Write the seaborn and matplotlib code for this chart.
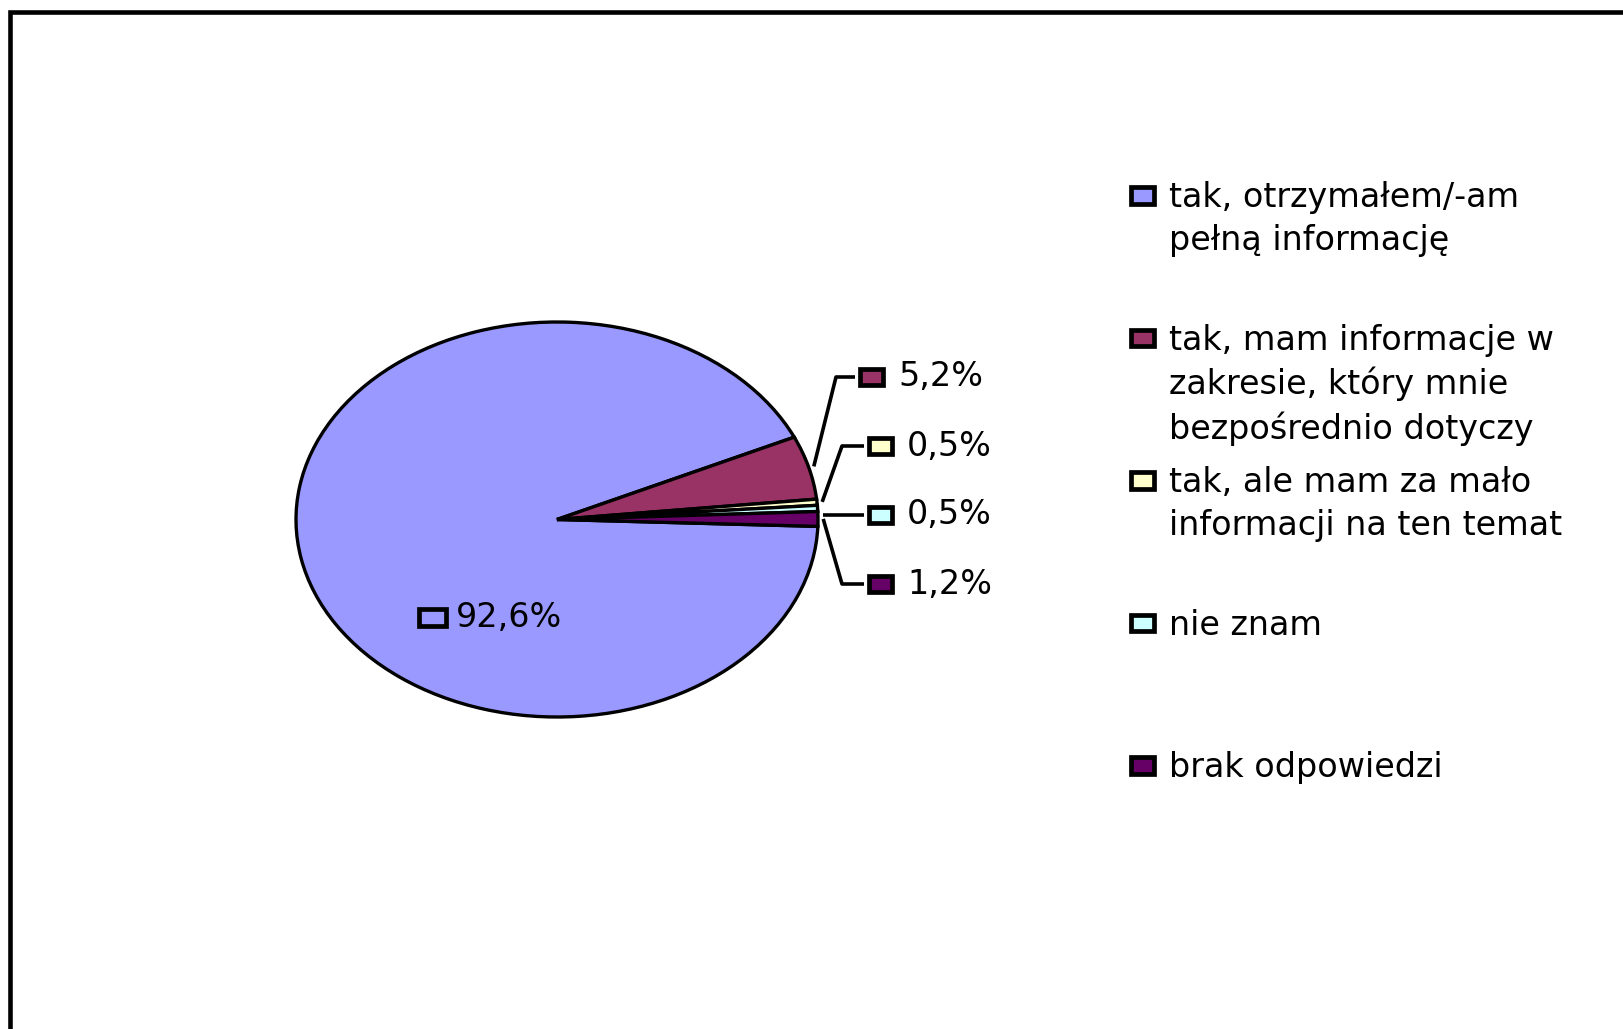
import matplotlib
matplotlib.use("Agg")
import matplotlib.pyplot as plt
import numpy as np
import seaborn as sns
from matplotlib.patches import Rectangle

answers = [
    "tak, otrzymałem/-am\npełną informację",
    "tak, mam informacje w\nzakresie, który mnie\nbezpośrednio dotyczy",
    "tak, ale mam za mało\ninformacji na ten temat",
    "nie znam",
    "brak odpowiedzi",
]
shares = [92.6, 5.2, 0.5, 0.5, 1.2]
palette = ["#9999FF", "#993366", "#FFFFCC", "#CCFFFF", "#660066"]

W, H = 1623, 1029
# pie centre and radii in pixels (the pie is drawn as an ellipse)
CX, CY, RX, RY = 557, 519.5, 261, 197.5


def px(x):
    return (x - CX) / RX


def py(y):
    return (CY - y) / RY


def dw(w):
    return w / RX


def dh(h):
    return h / RY


sns.set_theme(style="white")
plt.rcParams["font.family"] = ["DejaVu Sans"]

fig = plt.figure(figsize=(W / 100, H / 100), dpi=100)
fig.patch.set_facecolor("white")
ax = fig.add_axes([0, 0, 1, 1])
wedges, _ = ax.pie(
    shares,
    colors=palette,
    startangle=-2,
    counterclock=False,
    wedgeprops=dict(edgecolor="black", linewidth=2.4),
)
ax.set_aspect("auto")
ax.set_xlim(-CX / RX, (W - CX) / RX)
ax.set_ylim((CY - H) / RY, CY / RY)
ax.axis("off")

FS = 24
KEY_LW = 3.4


def key(x_left, y_center, w, h, color):
    # outer size w x h in pixels, border drawn inside
    b = 4.5
    ax.add_patch(Rectangle((px(x_left + b / 2), py(y_center + (h - b) / 2)),
                           dw(w - b), dh(h - b), facecolor=color,
                           edgecolor="black", linewidth=KEY_LW, zorder=5))


def fmt(v):
    return f"{v:.1f}%".replace(".", ",")


# labels for the small slices, with leader lines
label_y = [377, 446, 515, 584]
elbow_x = [836, 842, None, 842]
key_left = [858, 867, 867, 867]
for i, w in enumerate(wedges[1:], start=1):
    mid = np.deg2rad((w.theta1 + w.theta2) / 2)
    ax0, ay0 = 1.02 * np.cos(mid), 1.02 * np.sin(mid)
    ly = label_y[i - 1]
    kx = key_left[i - 1]
    xs, ys = [ax0], [ay0]
    if elbow_x[i - 1] is not None:
        xs.append(px(elbow_x[i - 1]))
        ys.append(py(ly))
    else:
        ys[0] = py(ly)
    xs.append(px(kx - 3))
    ys.append(py(ly))
    ax.plot(xs, ys, color="black", linewidth=2.6, solid_capstyle="butt",
            zorder=4)
    key(kx, ly, 27, 21, palette[i])
    ax.text(px(kx + 27 + 13), py(ly), fmt(shares[i]), fontsize=FS,
            va="center", ha="left", color="black", zorder=6)

# label of the big slice, inside the pie
key(417, 617.5, 31, 21, palette[0])
ax.text(px(456), py(617.5), fmt(shares[0]), fontsize=FS, va="center",
        ha="left", color="black", zorder=6)

# legend
for i, (name, color) in enumerate(zip(answers, palette)):
    yc = 195.5 + 142.5 * i
    key(1129, yc, 27, 21, color)
    ax.text(px(1169), py(yc - 14), name, fontsize=FS, va="top", ha="left",
            linespacing=1.36, color="black")

# chart frame (runs off the right and bottom edges)
fig.patches.append(Rectangle((9.5 / W, -0.2), 2.0, 1.2 - 11.5 / H,
                             transform=fig.transFigure, fill=False,
                             edgecolor="black", linewidth=3.3))

fig.savefig("out.png", dpi=100)
plt.close(fig)
